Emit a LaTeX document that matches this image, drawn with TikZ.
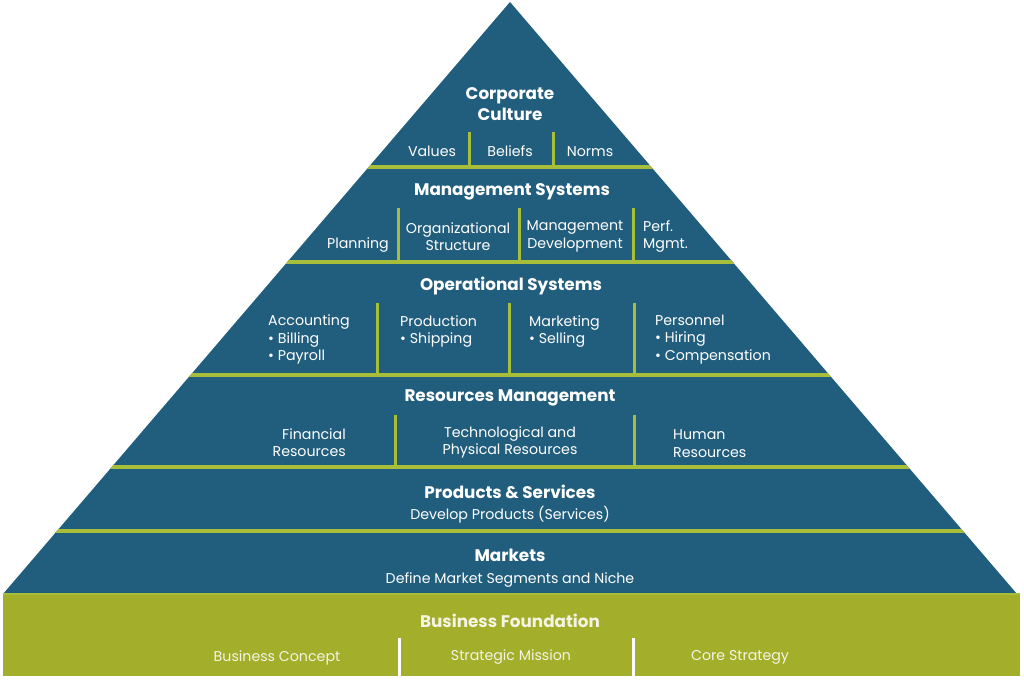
\documentclass[tikz,border=0pt]{standalone}
\usepackage{fontspec}
\setmainfont{Poppins}
\definecolor{pblue}{HTML}{215E7E}
\definecolor{pgreen}{HTML}{A3AE2A}
\definecolor{pline}{HTML}{A6BE3A}
\definecolor{pcream}{HTML}{F4F4E4}
\begin{document}
\begin{tikzpicture}[x=1pt,y=-1pt,
  hd/.style={text=white,font=\fontsize{16.8}{21}\selectfont\bfseries,inner sep=0pt,align=center,yshift=-2pt},
  tx/.style={text=white,font=\fontsize{14.2}{17.5}\selectfont,inner sep=0pt,align=center,yshift=-1.5pt},
  txl/.style={tx,align=left,anchor=west},
  txr/.style={tx,align=right,anchor=east},
  ft/.style={text=pcream,font=\fontsize{14.2}{17}\selectfont,inner sep=0pt,yshift=-1.5pt},
  gl/.style={draw=pline,line width=3.5pt},
  vl/.style={draw=pline,line width=3pt},
  wl/.style={draw=white,line width=3pt}]
\useasboundingbox (0,0) rectangle (1024,682);
\fill[white] (0,0) rectangle (1024,682);
% pyramid
\fill[pblue] (510,2) -- (3,594) -- (1017,594) -- cycle;
\begin{scope}
\clip (510,2) -- (3,594) -- (1017,594) -- cycle;
\foreach \yy in {167,262,375,467,531} \draw[gl] (0,\yy) -- (1024,\yy);
\end{scope}
% foundation
\fill[pgreen] (3,594) rectangle (1020,676);
\draw[pline,line width=2pt] (3,594) -- (1020,594);
% vertical dividers
\draw[vl] (469,132) -- (469,167);
\draw[vl] (553,132) -- (553,167);
\draw[vl] (398,208) -- (398,262);
\draw[vl] (519,208) -- (519,262);
\draw[vl] (633,208) -- (633,262);
\draw[vl] (377,303) -- (377,375);
\draw[vl] (509,303) -- (509,375);
\draw[vl] (634,303) -- (634,375);
\draw[vl] (395,415) -- (395,467);
\draw[vl] (634,415) -- (634,467);
\draw[wl] (399,638) -- (399,676);
\draw[wl] (633,638) -- (633,676);
% texts
\node[hd] (cc) at (510,102) {Corporate\\Culture};
\node[tx] (v) at (432,150) {Values};
\node[tx] (b) at (510,150) {Beliefs};
\node[tx] (n) at (590,150) {Norms};
\node[hd] (ms) at (512,190) {Management Systems};
\node[tx] (pl) at (358,244) {Planning};
\node[tx] (os) at (458,235) {Organizational\\Structure};
\node[tx] (md) at (575,235) {Management\\Development};
\node[txl] (pm) at (643,235) {Perf.\\Mgmt.};
\node[hd] (ops) at (511,284) {Operational Systems};
\node[txl] (ac) at (268,338) {Accounting\\• Billing\\• Payroll};
\node[txl] (pr) at (400,330) {Production\\• Shipping};
\node[txl] (mk) at (529,330) {Marketing\\• Selling};
\node[txl] (pe) at (655,338) {Personnel\\• Hiring\\• Compensation};
\node[hd] (rm) at (510,396) {Resources Management};
\node[txr] (fr) at (346,441) {Financial\\Resources};
\node[tx] (tp) at (510,441) {Technological and\\Physical Resources};
\node[txl] (hr) at (673,442) {Human\\Resources};
\node[hd] (ps) at (510,490) {Products \& Services};
\node[tx] (dp) at (510,513) {Develop Products (Services)};
\node[hd] (mkt) at (510,553) {Markets};
\node[tx] (dm) at (510,578) {Define Market Segments and Niche};
\node[hd,text=pcream] (bf) at (510,619) {Business Foundation};
\node[ft] (bc) at (277,656) {Business Concept};
\node[ft] (sm) at (511,656) {Strategic Mission};
\node[ft] (cs) at (740,656) {Core Strategy};
\end{tikzpicture}
\end{document}
